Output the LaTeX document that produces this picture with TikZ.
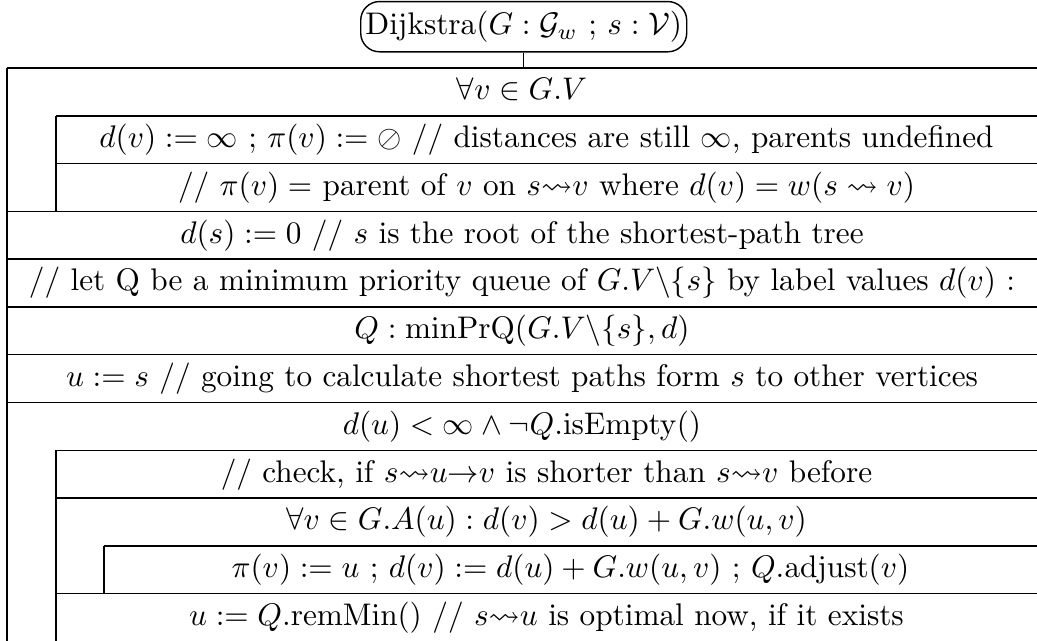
\documentclass[tikz,border=0pt]{standalone}
\usepackage{amsmath,amssymb}

\begin{document}
\begin{tikzpicture}[
    line join=round,
    rule/.style={
        line width=0.45pt
    },
    stmt/.style={
        inner sep=0pt,
        text height=7.5pt,
        text depth=2.5pt
    },
    head/.style={
        draw,
        line width=0.45pt,
        rounded corners=6pt,
        inner xsep=1.5pt,
        inner ysep=0pt,
        minimum height=0.565cm
    }
]

\useasboundingbox (0,0) rectangle (11.663,-7.209);

% =================================================
% Заголовок
% =================================================

\node[head] (title) at (5.89,-0.30)
    {Dijkstra($G : \mathcal{G}_w$ ; $s : \mathcal{V}$)};

% =================================================
% Углы структограммы
% =================================================

% Внешняя рамка
\coordinate (A) at (0.079,-0.765);
\coordinate (B) at (11.663,-0.765);
\coordinate (D) at (0.079,-7.215);

% Тело первого цикла
\coordinate (P1) at (0.630,-1.3025);
\coordinate (P2) at (0.630,-1.84);
\coordinate (P3) at (0.630,-2.3775);

% Тело второго цикла
\coordinate (Q1) at (0.630,-5.065);
\coordinate (Q2) at (0.630,-5.6025);
\coordinate (Q3) at (0.630,-6.6775);
\coordinate (Q4) at (0.630,-7.215);

% Тело внутреннего цикла
\coordinate (R1) at (1.170,-6.14);
\coordinate (R2) at (1.170,-6.6775);

\coordinate (join) at (title.south |- A);

% =================================================
% Линии
% =================================================

\draw[rule] (title) -- (join);

% Вертикальные
\draw[rule] (A)--(D);
\draw[rule] (P1)--(P3);
\draw[rule] (Q1)--(Q4);
\draw[rule] (R1)--(R2);

% Горизонтальные
\draw[rule] (A)--(B);
\draw[rule] (P1)--(P1 -| B);
\draw[rule] (P2)--(P2 -| B);
\draw[rule] (A |- P3)--(P3 -| B);
\draw[rule] (0.079,-2.915)--(11.663,-2.915);
\draw[rule] (0.079,-3.4525)--(11.663,-3.4525);
\draw[rule] (0.079,-3.99)--(11.663,-3.99);
\draw[rule] (0.079,-4.5275)--(11.663,-4.5275);
\draw[rule] (Q1)--(Q1 -| B);
\draw[rule] (Q2)--(Q2 -| B);
\draw[rule] (R1)--(R1 -| B);
\draw[rule] (Q3)--(Q3 -| B);

% =================================================
% Тексты
% =================================================

\node[stmt] (loopv) at (5.871,-1.034) {$\forall v \in G.V$};
\node[stmt] (init) at (6.1465,-1.571)
    {$d(v) := \infty$ ; $\pi(v) := \oslash$ // distances are still $\infty$, parents undefined};
\node[stmt] (note) at (6.1465,-2.109)
    {// $\pi(v) =$ parent of $v$ on $s{\leadsto}v$ where $d(v) = w(s \leadsto v)$};
\node[stmt] (root) at (5.871,-2.646)
    {$d(s) := 0$ // $s$ is the root of the shortest-path tree};
\node[stmt] (queue) at (5.871,-3.184)
    {// let Q be a minimum priority queue of $G.V\backslash\{s\}$ by label values $d(v)$ :};
\node[stmt] (decl) at (5.871,-3.721)
    {$Q : \mathrm{minPrQ}(G.V\backslash\{s\}, d)$};
\node[stmt] (start) at (5.871,-4.259)
    {$u := s$ // going to calculate shortest paths form $s$ to other vertices};
\node[stmt] (loopu) at (5.871,-4.796)
    {$d(u) < \infty \wedge \neg Q.\mathrm{isEmpty}()$};
\node[stmt] (check) at (6.1465,-5.334)
    {// check, if $s{\leadsto}u{\to}v$ is shorter than $s{\leadsto}v$ before};
\node[stmt] (loopa) at (6.1465,-5.871)
    {$\forall v \in G.A(u) : d(v) > d(u) + G.w(u,v)$};
\node[stmt] (relax) at (6.4165,-6.409)
    {$\pi(v) := u$ ; $d(v) := d(u) + G.w(u,v)$ ; $Q.\mathrm{adjust}(v)$};
\node[stmt] (next) at (6.1465,-6.946)
    {$u := Q.\mathrm{remMin}()$ // $s{\leadsto}u$ is optimal now, if it exists};

\end{tikzpicture}
\end{document}
